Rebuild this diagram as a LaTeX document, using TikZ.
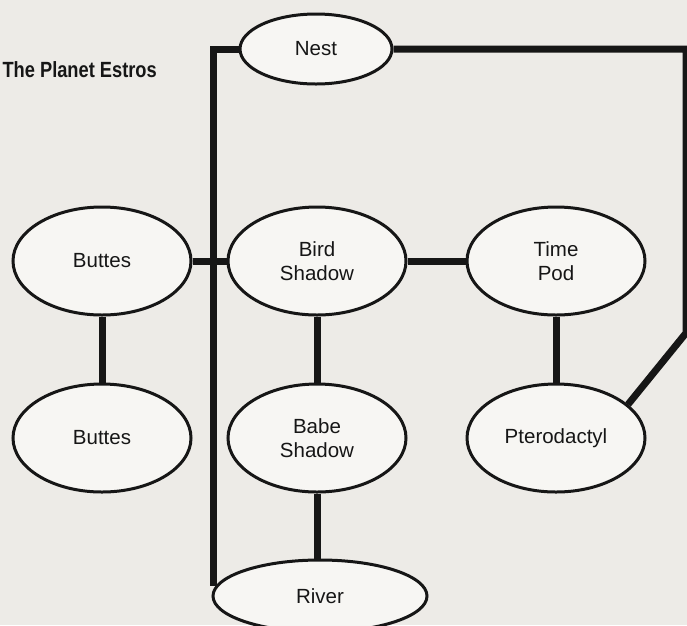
\documentclass[tikz,border=0pt]{standalone}
\usepackage{fontspec}
\setmainfont{Liberation Sans}
\usetikzlibrary{positioning,shapes.geometric}

\definecolor{paper}{HTML}{EDEBE7}
\definecolor{blobfill}{HTML}{F7F6F3}
\definecolor{ink}{HTML}{161616}

\begin{document}
\begin{tikzpicture}[
  x=1pt, y=-1pt,
  blob/.style={ellipse, draw=ink, line width=3pt, fill=blobfill, align=center,
    minimum width=178pt, minimum height=108pt, inner sep=0pt, text=ink,
    font=\fontsize{20.5}{24}\selectfont},
  link/.style={draw=ink, line width=7pt},
  heading/.style={font=\fontsize{22}{26}\selectfont\bfseries, text=ink, inner sep=0pt}
]
\useasboundingbox (0,0) rectangle (687,625);
\fill[paper] (0,0) rectangle (687,625);

\node[heading, anchor=base east] (title) at (157,77) {\scalebox{0.83}[1]{The Planet Estros}};

\node[blob] (buttesA) at (102,261) {Buttes};
\node[blob, right=34pt of buttesA] (bird) {Bird\\Shadow};
\node[blob, right=58pt of bird] (timepod) {Time\\Pod};
\node[blob, below=66pt of buttesA] (buttesB) {Buttes};
\node[blob, below=66pt of bird] (babe) {Babe\\Shadow};
\node[blob, below=66pt of timepod] (ptero) {Pterodactyl};

\node[blob, minimum width=152pt, minimum height=70pt] (nest) at (316,49) {Nest};
\node[blob, minimum width=214pt, minimum height=72pt] (river) at (320,596) {River};

\coordinate (trunkend) at (213,586);
\coordinate (rbend) at (686,333);

\draw[link] (nest.west) -| (trunkend);
\draw[link] (nest.east) -| (rbend) -- (ptero.25);
\draw[link] (buttesA.east) -- (bird.west);
\draw[link] (bird.east) -- (timepod.west);
\draw[link] (buttesA.south) -- (buttesB.north);
\draw[link] (bird.south) -- (babe.north);
\draw[link] (timepod.south) -- (ptero.north);
\draw[link] (babe.south) -- (babe.south |- river.north);
\end{tikzpicture}
\end{document}
